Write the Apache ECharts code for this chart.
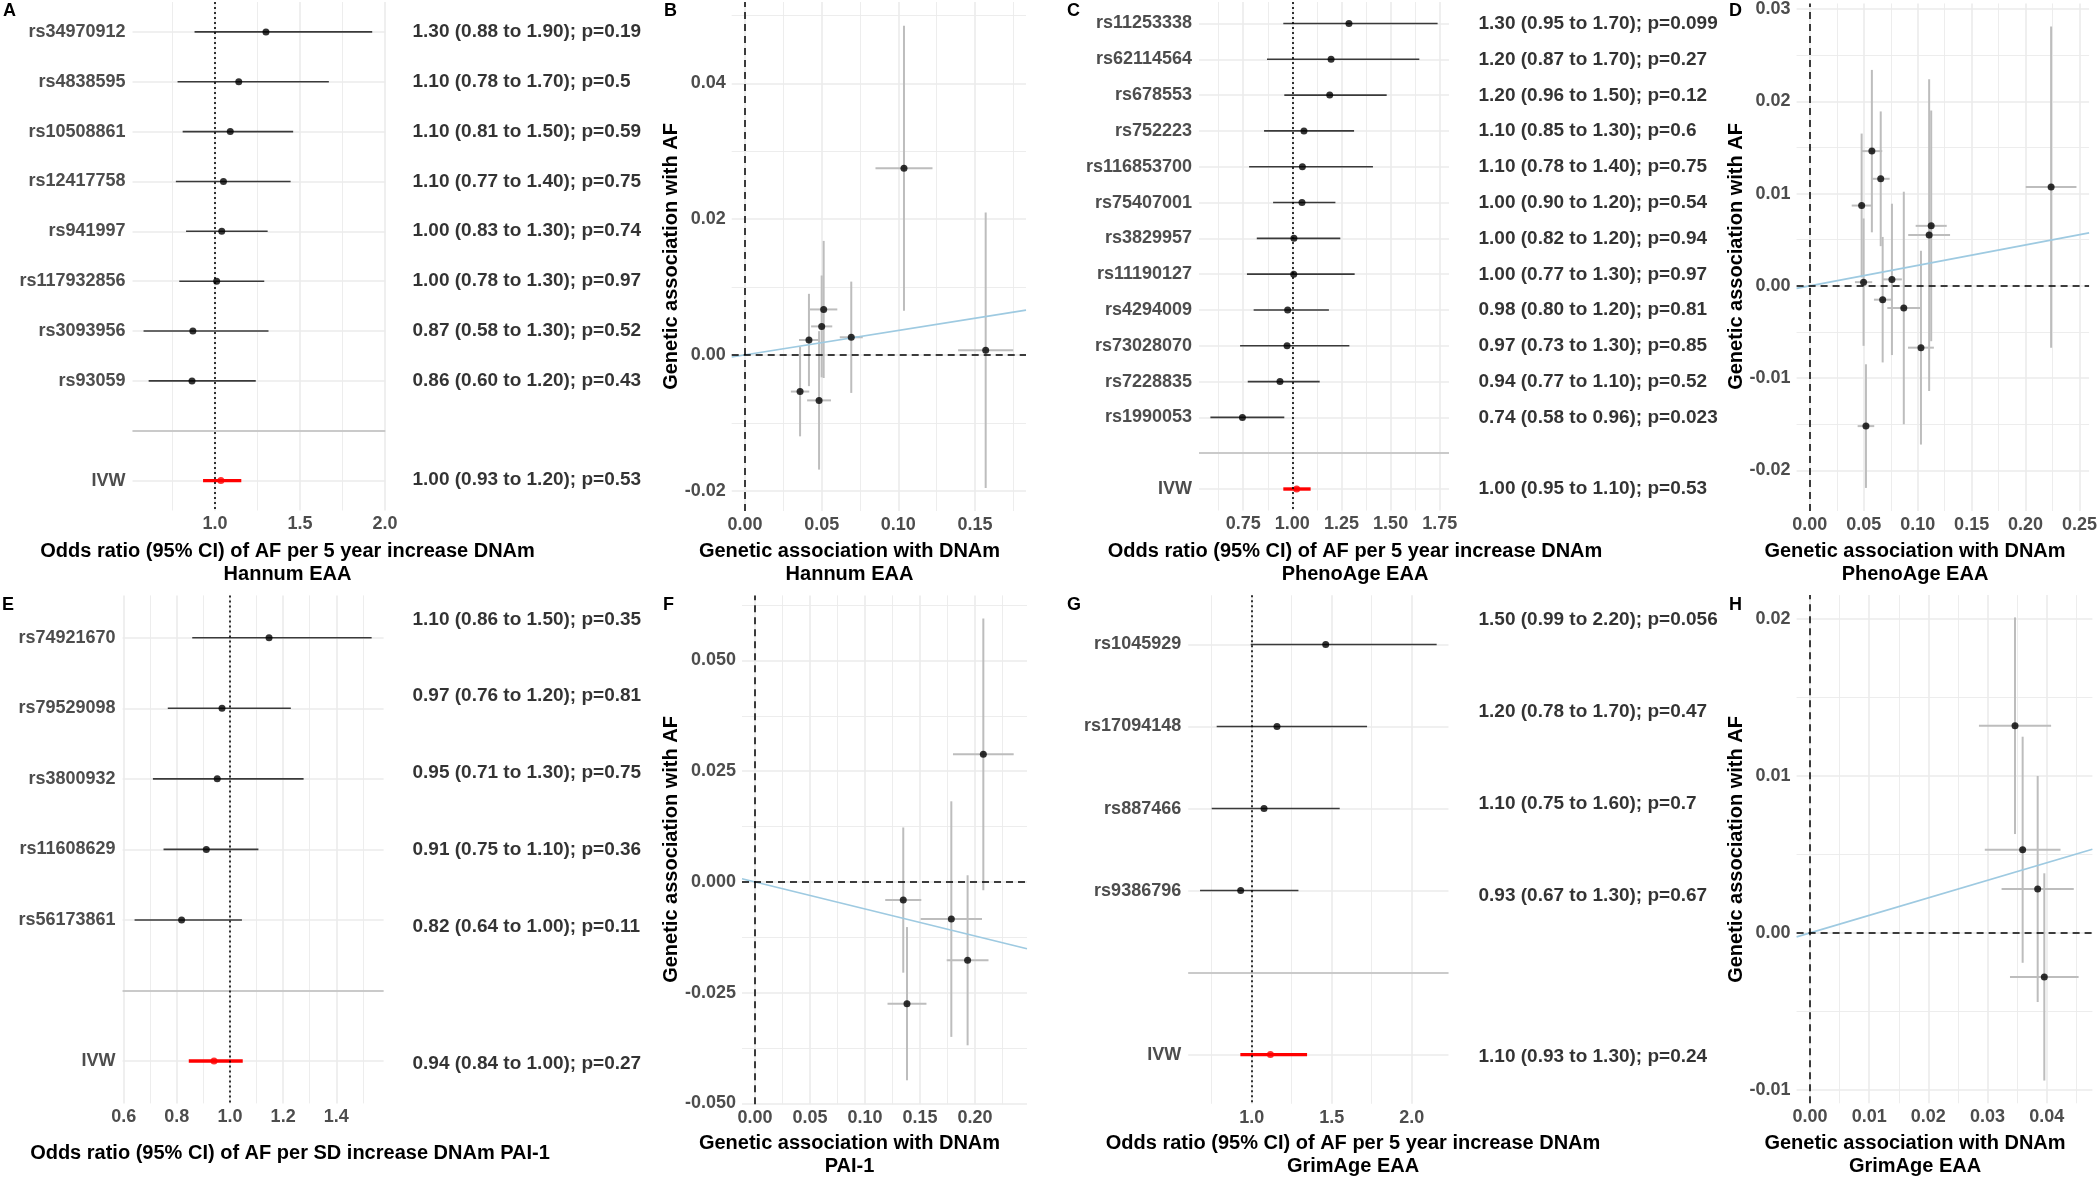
<!DOCTYPE html>
<html>
<head>
<meta charset="utf-8">
<title>MR forest and scatter plots</title>
<script src="https://cdn.jsdelivr.net/npm/echarts@6/dist/echarts.min.js"></script>
<style>
  html, body { margin: 0; padding: 0; background: #fff; }
  #main { width: 2100px; height: 1179px; }
</style>
</head>
<body>
<div id="main"></div>
<script>
// ---- Hannum EAA (A, B) ----
const hannumSnps = ['rs34970912', 'rs4838595', 'rs10508861', 'rs12417758', 'rs941997', 'rs117932856', 'rs3093956', 'rs93059']
const hannumOr = [1.30, 1.14, 1.09, 1.05, 1.04, 1.01, 0.87, 0.865]
const hannumLo = [0.88, 0.78, 0.81, 0.77, 0.83, 0.79, 0.58, 0.61]
const hannumHi = [1.925, 1.67, 1.46, 1.445, 1.31, 1.29, 1.315, 1.24]
const hannumText = ['1.30 (0.88 to 1.90); p=0.19', '1.10 (0.78 to 1.70); p=0.5', '1.10 (0.81 to 1.50); p=0.59', '1.10 (0.77 to 1.40); p=0.75',
  '1.00 (0.83 to 1.30); p=0.74', '1.00 (0.78 to 1.30); p=0.97', '0.87 (0.58 to 1.30); p=0.52', '0.86 (0.60 to 1.20); p=0.43']
const hannumIvw = [1.035, 0.93, 1.155]
const hannumIvwText = '1.00 (0.93 to 1.20); p=0.53'
const hannumBx = [0.1037, 0.157, 0.0513, 0.0500, 0.0417, 0.0693, 0.0359, 0.0483]
const hannumBxCi = [0.0186, 0.018, 0.0089, 0.0069, 0.0065, 0.0075, 0.006, 0.0078]
const hannumBy = [0.0275, 0.0007, 0.0067, 0.0042, 0.0022, 0.0026, -0.0054, -0.0067]
const hannumByCi = [0.0210, 0.0203, 0.0101, 0.0075, 0.0068, 0.0082, 0.0066, 0.0102]
const hannumSlope = 0.036

// ---- PhenoAge EAA (C, D) ----
const phenoSnps = ['rs11253338', 'rs62114564', 'rs678553', 'rs752223', 'rs116853700', 'rs75407001', 'rs3829957', 'rs11190127',
  'rs4294009', 'rs73028070', 'rs7228835', 'rs1990053']
const phenoOr = [1.288, 1.197, 1.19, 1.059, 1.051, 1.049, 1.008, 1.007, 0.976, 0.973, 0.937, 0.746]
const phenoLo = [0.954, 0.871, 0.959, 0.856, 0.78, 0.902, 0.819, 0.769, 0.803, 0.734, 0.773, 0.583]
const phenoHi = [1.739, 1.646, 1.48, 1.314, 1.41, 1.219, 1.244, 1.317, 1.186, 1.29, 1.139, 0.959]
const phenoText = ['1.30 (0.95 to 1.70); p=0.099', '1.20 (0.87 to 1.70); p=0.27', '1.20 (0.96 to 1.50); p=0.12', '1.10 (0.85 to 1.30); p=0.6',
  '1.10 (0.78 to 1.40); p=0.75', '1.00 (0.90 to 1.20); p=0.54', '1.00 (0.82 to 1.20); p=0.94', '1.00 (0.77 to 1.30); p=0.97',
  '0.98 (0.80 to 1.20); p=0.81', '0.97 (0.73 to 1.30); p=0.85', '0.94 (0.77 to 1.10); p=0.52', '0.74 (0.58 to 0.96); p=0.023']
const phenoIvw = [1.022, 0.954, 1.093]
const phenoIvwText = '1.00 (0.95 to 1.10); p=0.53'
const phenoBx = [0.2237, 0.0575, 0.0657, 0.0480, 0.1125, 0.1106, 0.0498, 0.0761, 0.0675, 0.0871, 0.1030, 0.0520]
const phenoBxCi = [0.0235, 0.0096, 0.0083, 0.0092, 0.0144, 0.0194, 0.0080, 0.0092, 0.0081, 0.0153, 0.0120, 0.0077]
const phenoBy = [0.0107, 0.0146, 0.0116, 0.0087, 0.0065, 0.0055, 0.0004, 0.0007, -0.0015, -0.0024, -0.0067, -0.0152]
const phenoByCi = [0.0174, 0.0088, 0.0073, 0.0078, 0.0125, 0.0169, 0.0069, 0.0082, 0.0068, 0.0126, 0.0105, 0.0067]
const phenoSlope = 0.0222

// ---- DNAm PAI-1 (E, F) ----
const paiSnps = ['rs74921670', 'rs79529098', 'rs3800932', 'rs11608629', 'rs56173861']
const paiOr = [1.147, 0.97, 0.952, 0.911, 0.818]
const paiLo = [0.858, 0.766, 0.71, 0.75, 0.641]
const paiHi = [1.533, 1.229, 1.277, 1.107, 1.045]
const paiText = ['1.10 (0.86 to 1.50); p=0.35', '0.97 (0.76 to 1.20); p=0.81', '0.95 (0.71 to 1.30); p=0.75', '0.91 (0.75 to 1.10); p=0.36',
  '0.82 (0.64 to 1.00); p=0.11']
const paiIvw = [0.94, 0.845, 1.048]
const paiIvwText = '0.94 (0.84 to 1.00); p=0.27'
const paiBx = [0.2076, 0.1348, 0.1785, 0.1933, 0.1382]
const paiBxCi = [0.0276, 0.0164, 0.0279, 0.019, 0.0177]
const paiBy = [0.0288, -0.0041, -0.0084, -0.0177, -0.0275]
const paiByCi = [0.0307, 0.0164, 0.0266, 0.0192, 0.0173]
const paiSlope = -0.061

// ---- GrimAge EAA (G, H) ----
const grimSnps = ['rs1045929', 'rs17094148', 'rs887466', 'rs9386796']
const grimOr = [1.4625, 1.158, 1.077, 0.931]
const grimLo = [0.994, 0.781, 0.75, 0.677]
const grimHi = [2.156, 1.721, 1.55, 1.292]
const grimText = ['1.50 (0.99 to 2.20); p=0.056', '1.20 (0.78 to 1.70); p=0.47', '1.10 (0.75 to 1.60); p=0.7', '0.93 (0.67 to 1.30); p=0.67']
const grimIvw = [1.117, 0.929, 1.346]
const grimIvwText = '1.10 (0.93 to 1.30); p=0.24'
const grimBx = [0.03465, 0.03594, 0.03848, 0.0396]
const grimBxCi = [0.0061, 0.0064, 0.0061, 0.0058]
const grimBy = [0.0132, 0.0053, 0.0028, -0.0028]
const grimByCi = [0.0069, 0.0072, 0.0072, 0.0066]
const grimSlope = 0.1117

const FONT = '"Liberation Sans", Arial, Helvetica, sans-serif'
const GRID = '#ebebeb'
const TICK_COLOR = '#4d4d4d'

const grids = []
const xAxes = []
const yAxes = []
const series = []
const graphics = []

// only label values that fall on the tick step (fixed min/max add edge ticks)
function stepLabel (step, dec) {
  return function (v) {
    const k = v / step
    return Math.abs(k - Math.round(k)) < 1e-6 ? v.toFixed(dec) : ''
  }
}

function valueAxis (gi, min, max, step, dec, margin) {
  return {
    type: 'value',
    gridIndex: gi,
    min: min,
    max: max,
    minInterval: step,
    maxInterval: step,
    axisLine: { show: false },
    axisTick: { show: false },
    axisLabel: { color: TICK_COLOR, fontSize: 18, fontWeight: 'bold', fontFamily: FONT, margin: margin, formatter: stepLabel(step, dec) },
    splitLine: { show: true, showMinLine: false, showMaxLine: false, lineStyle: { color: GRID, width: 1.6 } },
    minorTick: { show: false, splitNumber: 2 },
    minorSplitLine: { show: true, lineStyle: { color: GRID, width: 0.9 } }
  }
}

function renderCi (params, api) {
  const a = api.coord([api.value(0), api.value(2)])
  const b = api.coord([api.value(1), api.value(2)])
  const ivw = api.value(3) === 1
  return {
    type: 'line',
    shape: { x1: a[0], y1: a[1], x2: b[0], y2: b[1] },
    style: { stroke: ivw ? '#ff0000' : '#3a3a3a', lineWidth: ivw ? 3.4 : 1.6 }
  }
}

function renderCross (params, api) {
  const x = api.value(0)
  const y = api.value(1)
  const dx = api.value(2)
  const dy = api.value(3)
  const h1 = api.coord([x - dx, y])
  const h2 = api.coord([x + dx, y])
  const v1 = api.coord([x, y - dy])
  const v2 = api.coord([x, y + dy])
  const st = { stroke: '#bdbdbd', lineWidth: 2 }
  return {
    type: 'group',
    children: [
      { type: 'line', shape: { x1: h1[0], y1: h1[1], x2: h2[0], y2: h2[1] }, style: st },
      { type: 'line', shape: { x1: v1[0], y1: v1[1], x2: v2[0], y2: v2[1] }, style: st }
    ]
  }
}

function addForest (p) {
  const gi = grids.length
  const n = p.snps.length
  const rows = p.snps.concat(['', 'IVW'])
  grids.push({ left: p.left, top: p.top, width: p.right - p.left, height: p.height })
  xAxes.push(valueAxis(gi, p.xMin, p.xMax, p.step, p.dec, 5))
  yAxes.push({
    type: 'value',
    gridIndex: gi,
    inverse: true,
    min: -0.6,
    max: n + 1.6,
    minInterval: 1,
    maxInterval: 1,
    axisLine: { show: false },
    axisTick: { show: false },
    axisLabel: {
      color: TICK_COLOR, fontSize: 18, fontWeight: 'bold', fontFamily: FONT, margin: 7,
      formatter: function (v) {
        const k = Math.round(v)
        return Math.abs(v - k) < 1e-6 && rows[k] !== undefined ? rows[k] : ''
      }
    },
    splitLine: { show: true, showMinLine: false, showMaxLine: false, lineStyle: { color: GRID, width: 1.6 } },
    minorSplitLine: { show: false }
  })

  const bars = p.snps.map((s, i) => [p.lo[i], p.hi[i], i, 0])
  bars.push([p.ivw[1], p.ivw[2], n + 1, 1])
  series.push({
    type: 'custom',
    xAxisIndex: gi,
    yAxisIndex: gi,
    silent: true,
    z: 2,
    encode: { x: [0, 1], y: 2 },
    renderItem: renderCi,
    data: bars,
    markLine: {
      silent: true,
      symbol: 'none',
      label: { show: false },
      data: [
        { yAxis: n, lineStyle: { color: '#bebebe', width: 1.6, type: 'solid' } },
        { xAxis: 1, lineStyle: { color: '#000', width: 1.6, type: [2, 3] } }
      ]
    }
  })
  series.push({
    type: 'scatter',
    xAxisIndex: gi,
    yAxisIndex: gi,
    silent: true,
    z: 4,
    symbolSize: 7,
    itemStyle: { color: '#000' },
    data: p.or.map((v, i) => [v, i])
  })
  series.push({
    type: 'scatter',
    xAxisIndex: gi,
    yAxisIndex: gi,
    silent: true,
    z: 4,
    symbolSize: 7,
    itemStyle: { color: '#ff0000' },
    data: [[p.ivw[0], n + 1]]
  })

  // text column with estimates
  const ti = grids.length
  const texts = p.text.concat([p.ivwText])
  const tMax = p.tIvw + 0.5
  grids.push({ left: p.tLeft, top: p.tY0 - 0.5 * p.tStep, width: 20, height: (tMax + 0.5) * p.tStep })
  xAxes.push({ type: 'value', gridIndex: ti, min: 0, max: 1, show: false })
  yAxes.push({ type: 'value', gridIndex: ti, inverse: true, min: -0.5, max: tMax, show: false })
  const pos = p.text.map((t, i) => [0, i])
  pos.push([0, p.tIvw])
  series.push({
    type: 'scatter',
    xAxisIndex: ti,
    yAxisIndex: ti,
    silent: true,
    symbolSize: 1,
    itemStyle: { color: 'rgba(0,0,0,0)' },
    data: pos,
    label: {
      show: true,
      position: 'right',
      distance: 0,
      color: '#000',
      fontSize: 19,
      fontWeight: 'bold',
      fontFamily: FONT,
      formatter: q => texts[q.dataIndex]
    }
  })
}

function addScatter (p) {
  const gi = grids.length
  grids.push({ left: p.left, top: p.top, width: p.right - p.left, height: p.height })
  xAxes.push(valueAxis(gi, p.xMin, p.xMax, p.xStep, p.xDec, 5))
  yAxes.push(valueAxis(gi, p.yMin, p.yMax, p.yStep, p.yDec, 6))

  series.push({
    type: 'custom',
    xAxisIndex: gi,
    yAxisIndex: gi,
    silent: true,
    z: 2,
    encode: { x: 0, y: 1 },
    renderItem: renderCross,
    data: p.bx.map((x, i) => [x, p.by[i], p.bxCi[i], p.byCi[i]]),
    markLine: {
      silent: true,
      symbol: 'none',
      label: { show: false },
      lineStyle: { color: '#000', width: 1.5, type: [7, 5] },
      data: [{ xAxis: 0 }, { yAxis: 0 }]
    }
  })
  series.push({
    type: 'line',
    xAxisIndex: gi,
    yAxisIndex: gi,
    silent: true,
    z: 3,
    showSymbol: false,
    lineStyle: { color: '#9ecae1', width: 1.7 },
    data: [[p.xMin, p.slope * p.xMin], [p.xMax, p.slope * p.xMax]]
  })
  series.push({
    type: 'scatter',
    xAxisIndex: gi,
    yAxisIndex: gi,
    silent: true,
    z: 4,
    symbolSize: 7,
    itemStyle: { color: '#000' },
    data: p.bx.map((x, i) => [x, p.by[i]])
  })
}

function addText (x, y, text, opts) {
  const o = opts || {}
  graphics.push({
    type: 'text',
    x: x,
    y: y,
    rotation: o.rotate ? Math.PI / 2 : 0,
    silent: true,
    style: {
      text: text,
      fill: '#000',
      fontSize: o.size || 20,
      fontWeight: 'bold',
      fontFamily: FONT,
      lineHeight: 23,
      align: o.align || 'center',
      verticalAlign: o.valign || 'middle'
    }
  })
}

// A
addForest({
  snps: hannumSnps, or: hannumOr, lo: hannumLo, hi: hannumHi, ivw: hannumIvw, text: hannumText, ivwText: hannumIvwText,
  left: 132.5, right: 385.3, top: 2, height: 508.5, xMin: 0.515, xMax: 2.002, step: 0.5, dec: 1,
  tLeft: 412, tY0: 32, tStep: 49.8, tIvw: 9
})
// C
addForest({
  snps: phenoSnps, or: phenoOr, lo: phenoLo, hi: phenoHi, ivw: phenoIvw, text: phenoText, ivwText: phenoIvwText,
  left: 1199, right: 1449, top: 2, height: 508.5, xMin: 0.525, xMax: 1.797, step: 0.25, dec: 2,
  tLeft: 1478, tY0: 23.7, tStep: 35.8, tIvw: 13
})
// E
addForest({
  snps: paiSnps, or: paiOr, lo: paiLo, hi: paiHi, ivw: paiIvw, text: paiText, ivwText: paiIvwText,
  left: 122.6, right: 383.6, top: 595.4, height: 508, xMin: 0.596, xMax: 1.578, step: 0.2, dec: 1,
  tLeft: 412, tY0: 619.3, tStep: 76.85, tIvw: 5.79
})
// G
addForest({
  snps: grimSnps, or: grimOr, lo: grimLo, hi: grimHi, ivw: grimIvw, text: grimText, ivwText: grimIvwText,
  left: 1188.2, right: 1448.5, top: 595.3, height: 508.5, xMin: 0.603, xMax: 2.23, step: 0.5, dec: 1,
  tLeft: 1478, tY0: 619.3, tStep: 92.1, tIvw: 4.75
})

// B
addScatter({
  bx: hannumBx, bxCi: hannumBxCi, by: hannumBy, byCi: hannumByCi, slope: hannumSlope,
  left: 731.7, right: 1026, top: 2, height: 509,
  xMin: -0.0087, xMax: 0.1833, xStep: 0.05, xDec: 2, yMin: -0.023, yMax: 0.052, yStep: 0.02, yDec: 2
})
// D
addScatter({
  bx: phenoBx, bxCi: phenoBxCi, by: phenoBy, byCi: phenoByCi, slope: phenoSlope,
  left: 1796.6, right: 2092.4, top: 2, height: 509,
  xMin: -0.0123, xMax: 0.2589, xStep: 0.05, xDec: 2, yMin: -0.0244, yMax: 0.0306, yStep: 0.01, yDec: 2
})
// F
addScatter({
  bx: paiBx, bxCi: paiBxCi, by: paiBy, byCi: paiByCi, slope: paiSlope,
  left: 742, right: 1027, top: 595.4, height: 508.8,
  xMin: -0.0118, xMax: 0.2473, xStep: 0.05, xDec: 2, yMin: -0.0502, yMax: 0.0647, yStep: 0.025, yDec: 3
})
// H
addScatter({
  bx: grimBx, bxCi: grimBxCi, by: grimBy, byCi: grimByCi, slope: grimSlope,
  left: 1796.6, right: 2092.4, top: 595.1, height: 508.2,
  xMin: -0.00227, xMax: 0.04773, xStep: 0.01, xDec: 2, yMin: -0.01085, yMax: 0.02152, yStep: 0.01, yDec: 2
})

// axis titles
addText(287.5, 562.5, 'Odds ratio (95% CI) of AF per 5 year increase DNAm\nHannum EAA')
addText(849.5, 562.5, 'Genetic association with DNAm\nHannum EAA')
addText(1355, 562.5, 'Odds ratio (95% CI) of AF per 5 year increase DNAm\nPhenoAge EAA')
addText(1915, 562.5, 'Genetic association with DNAm\nPhenoAge EAA')
addText(290, 1153.5, 'Odds ratio (95% CI) of AF per SD increase DNAm PAI-1')
addText(849.5, 1155, 'Genetic association with DNAm\nPAI-1')
addText(1353, 1155, 'Odds ratio (95% CI) of AF per 5 year increase DNAm\nGrimAge EAA')
addText(1915, 1155, 'Genetic association with DNAm\nGrimAge EAA')
addText(671, 256.5, 'Genetic association with AF', { rotate: true })
addText(1736, 256.5, 'Genetic association with AF', { rotate: true })
addText(671, 849.5, 'Genetic association with AF', { rotate: true })
addText(1736, 849.5, 'Genetic association with AF', { rotate: true })

// panel letters
const letters = [['A', 3, 0], ['B', 664, 0], ['C', 1067, 0], ['D', 1729, 0], ['E', 2, 594], ['F', 663, 594], ['G', 1067, 594], ['H', 1729, 594]]
letters.forEach(l => addText(l[1], l[2], l[0], { size: 18, align: 'left', valign: 'top' }))

const myChart = echarts.init(document.getElementById('main'))
myChart.setOption({
  animation: false,
  backgroundColor: '#fff',
  textStyle: { fontFamily: FONT },
  grid: grids,
  xAxis: xAxes,
  yAxis: yAxes,
  series: series,
  graphic: graphics
})
</script>
</body>
</html>
